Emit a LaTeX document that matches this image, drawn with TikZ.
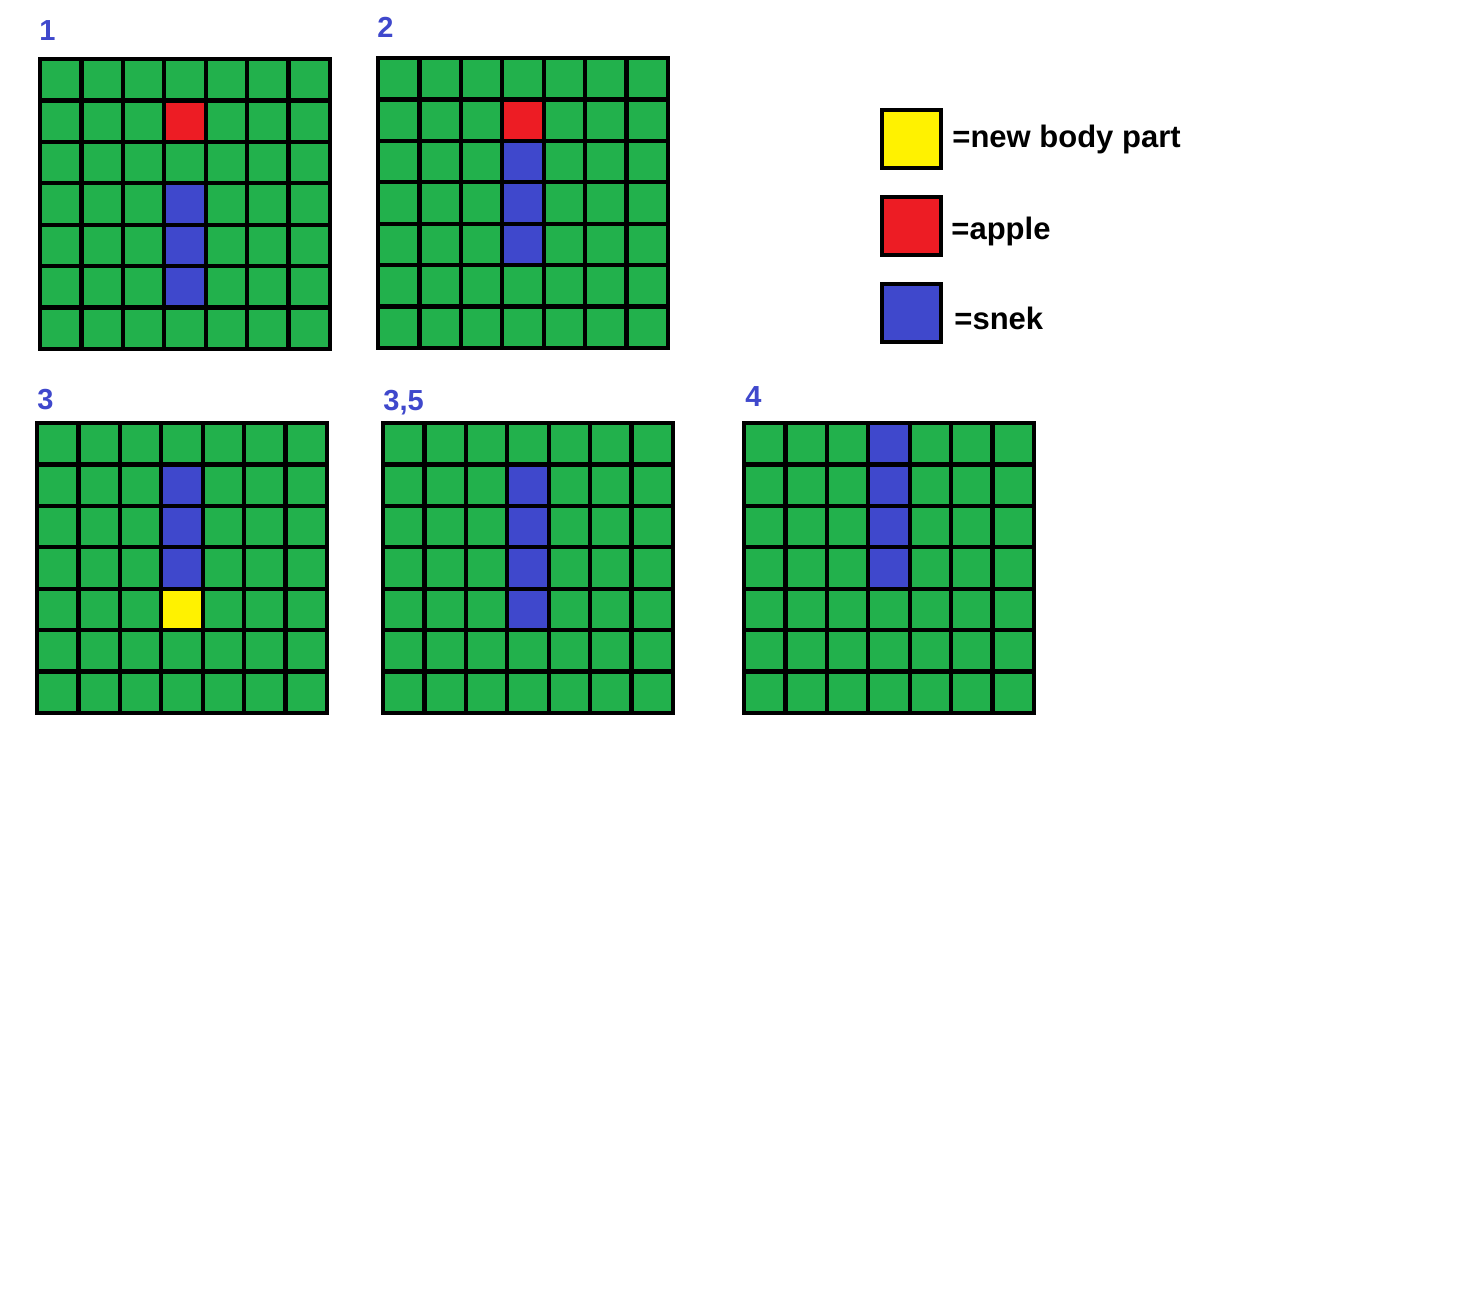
\documentclass[tikz,border=0pt]{standalone}
\usepackage{fontspec}
\setmainfont{Liberation Sans}
\definecolor{pgreen}{HTML}{22B14C}
\definecolor{pred}{HTML}{ED1C24}
\definecolor{pblue}{HTML}{3F48CC}
\definecolor{pyellow}{HTML}{FFF200}
\newcommand\snakegrid[3]{%
\begin{scope}[shift={(#1,#2)}]
 \fill[pgreen] (0,0) rectangle (290,290);
 \foreach \c/\r/\col in {#3} {\fill[\col] ({\c*290/7},{\r*290/7}) rectangle ({(\c+1)*290/7},{(\r+1)*290/7});}
 \foreach \i in {0,...,7} {\draw[gridline] ({\i*290/7},0) -- ({\i*290/7},290); \draw[gridline] (0,{\i*290/7}) -- (290,{\i*290/7});}
\end{scope}}
\begin{document}
\begin{tikzpicture}[x=0.5pt,y=-0.5pt,
  gridline/.style={line width=2.1pt,line cap=rect,black},
  lbl/.style={font=\bfseries\fontsize{14.5}{16}\selectfont, text=pblue, anchor=base west, inner sep=0pt},
  legtxt/.style={font=\bfseries\fontsize{15.5}{18}\selectfont, anchor=base west, inner sep=0pt},
  legbox/.style={draw=black, line width=2pt, minimum width=29.5pt, minimum height=29pt, inner sep=0pt}]
\useasboundingbox[fill=white] (0,0) rectangle (1461,1291);

\snakegrid{40}{59}{3/1/pred,3/3/pblue,3/4/pblue,3/5/pblue}
\snakegrid{378}{58}{3/1/pred,3/2/pblue,3/3/pblue,3/4/pblue}
\snakegrid{37}{423}{3/1/pblue,3/2/pblue,3/3/pblue,3/4/pyellow}
\snakegrid{383}{423}{3/1/pblue,3/2/pblue,3/3/pblue,3/4/pblue}
\snakegrid{744}{423}{3/0/pblue,3/1/pblue,3/2/pblue,3/3/pblue}

\node[lbl] (l1) at (39,40) {1};
\node[lbl] (l2) at (377,37) {2};
\node[lbl] (l3) at (37,409) {3};
\node[lbl] (l35) at (383,410) {3,5};
\node[lbl] (l4) at (745,406) {4};

\node[legbox, fill=pyellow] (knew) at (911.5,139) {};
\node[legbox, fill=pred] (kapple) at (911.5,226) {};
\node[legbox, fill=pblue] (ksnek) at (911.5,312.5) {};
\node[legtxt] (tnew) at (952,147) {=new body part};
\node[legtxt] (tapple) at (951,239) {=apple};
\node[legtxt] (tsnek) at (954,329) {=snek};
\end{tikzpicture}
\end{document}
